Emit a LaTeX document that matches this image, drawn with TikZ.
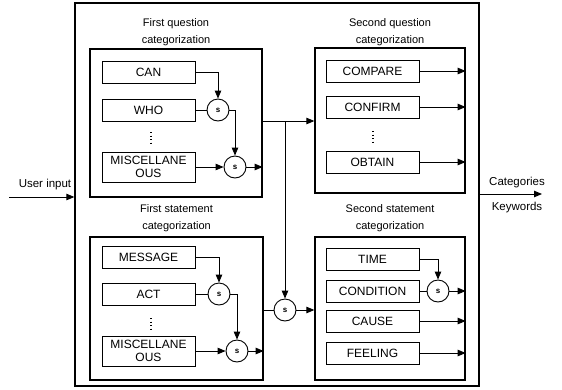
\documentclass[tikz,border=0pt]{standalone}
\usepackage{fontspec}
\setmainfont{Liberation Sans}
\usetikzlibrary{arrows.meta}

\begin{document}
\begin{tikzpicture}[x=1pt,y=-1pt,
	every node/.style={font=\fontsize{11.5}{12}\selectfont},
	bigbox/.style={draw,line width=1.3pt,inner sep=0pt},
	catbox/.style={draw,line width=0.9pt,minimum width=93pt,minimum height=22pt,inner sep=1pt,align=center,font=\fontsize{12}{13}\selectfont},
	sumnode/.style={draw,circle,line width=0.9pt,minimum size=22pt,inner sep=0pt,font=\fontsize{8}{9}\selectfont\bfseries},
	grouptitle/.style={align=center,font=\fontsize{11}{17}\selectfont},
	arr/.style={-{Triangle[length=8pt,width=6.5pt]},line width=0.9pt},
	line/.style={line width=0.9pt},
	dots/.style={line width=1.2pt,dash pattern=on 1pt off 2.5pt}]
	\useasboundingbox (0,0) rectangle (562,389);
	\node[bigbox,minimum width=404pt,minimum height=383pt] (sys) at (277,194.5) {};
	% first question
	\node[bigbox,minimum width=172pt,minimum height=148pt] (fq) at (176,123) {};
	\node[grouptitle] (fqt) at (176,32.5) {First question\\categorization};
	\node[catbox] (can) at (148.5,72) {CAN};
	\node[catbox] (who) at (148.5,110) {WHO};
	\coordinate (fqd1) at (151,132);
	\coordinate (fqd2) at (151,144);
	\node[catbox,minimum height=30pt] (fqmisc) at (148.5,167) {MISCELLANE\\OUS};
	\node[sumnode] (fqs1) at (218,110) {s};
	\node[sumnode] (fqs2) at (235,167) {s};
	\draw[dots] (fqd1) -- (fqd2);
	\draw[arr] (can) -| (fqs1);
	\draw[line] (who) -- (fqs1);
	\draw[arr] (fqs1) -| (fqs2);
	\draw[arr] (fqmisc) -- (fqs2);
	\draw[arr] (fqs2) -- (fqs2 -| fq.east);
	% second question
	\node[bigbox,minimum width=150pt,minimum height=145pt] (sq) at (390,120.5) {};
	\node[grouptitle] (sqt) at (390,32.5) {Second question\\categorization};
	\node[catbox] (compare) at (372.5,71) {COMPARE};
	\node[catbox] (confirm) at (372.5,107) {CONFIRM};
	\coordinate (sqd1) at (373,131);
	\coordinate (sqd2) at (373,143);
	\node[catbox] (obtain) at (372.5,162) {OBTAIN};
	\draw[dots] (sqd1) -- (sqd2);
	\draw[arr] (compare) -- (compare -| sq.east);
	\draw[arr] (confirm) -- (confirm -| sq.east);
	\draw[arr] (obtain) -- (obtain -| sq.east);
	% first statement
	\node[bigbox,minimum width=173pt,minimum height=143pt] (fs) at (176.5,308.5) {};
	\node[grouptitle] (fst) at (176.5,218.5) {First statement\\categorization};
	\node[catbox] (message) at (148.5,257) {MESSAGE};
	\node[catbox] (act) at (148.5,294) {ACT};
	\coordinate (fsd1) at (151,318);
	\coordinate (fsd2) at (151,330);
	\node[catbox,minimum height=30pt] (fsmisc) at (148.5,351) {MISCELLANE\\OUS};
	\node[sumnode] (fss1) at (219,294) {s};
	\node[sumnode] (fss2) at (237,351) {s};
	\draw[dots] (fsd1) -- (fsd2);
	\draw[arr] (message) -| (fss1);
	\draw[line] (act) -- (fss1);
	\draw[arr] (fss1) -| (fss2);
	\draw[arr] (fsmisc) -- (fss2);
	\draw[arr] (fss2) -- (fss2 -| fs.east);
	% second statement
	\node[bigbox,minimum width=150pt,minimum height=143pt] (ss) at (390,308.5) {};
	\node[grouptitle] (sst) at (390,218.5) {Second statement\\categorization};
	\node[catbox] (time) at (372.5,259) {TIME};
	\node[catbox] (condition) at (372.5,291) {CONDITION};
	\node[catbox] (cause) at (372.5,321) {CAUSE};
	\node[catbox] (feeling) at (372.5,353) {FEELING};
	\node[sumnode] (sss) at (438,291) {s};
	\draw[arr] (time) -| (sss);
	\draw[line] (condition) -- (sss);
	\draw[arr] (sss) -- (sss -| ss.east);
	\draw[arr] (cause) -- (cause -| ss.east);
	\draw[arr] (feeling) -- (feeling -| ss.east);
	% links between groups
	\coordinate (fqout) at (262,121);
	\coordinate (split) at (285,121);
	\node[sumnode] (merge) at (285,310) {s};
	\draw[arr] (fqout) -- (fqout -| sq.west);
	\draw[arr] (split) -- (merge);
	\draw[line] (merge -| fs.east) -- (merge);
	\draw[arr] (merge) -- (merge -| ss.west);
	% input and output
	\node (uin) at (45,185) {User input};
	\coordinate (src) at (9,197);
	\draw[arr] (src) -- (src -| sys.west);
	\node (cat) at (517,183) {Categories};
	\node (kw) at (517,208) {Keywords};
	\coordinate (dst) at (542,194);
	\draw[arr] (dst -| sys.east) -- (dst);
\end{tikzpicture}
\end{document}
